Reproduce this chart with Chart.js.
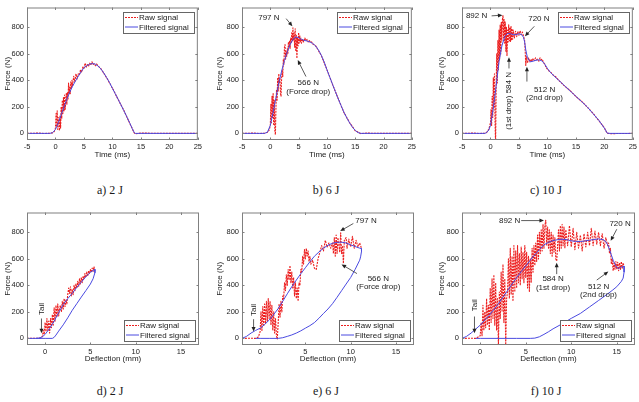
<!DOCTYPE html>
<html><head><meta charset="utf-8">
<script src="https://cdn.jsdelivr.net/npm/chart.js@4.4.0/dist/chart.umd.min.js"></script>
<style>
html,body{margin:0;padding:0;background:#fff;}
#wrap{position:relative;width:639px;height:402px;overflow:hidden;background:#fff;}
canvas{position:absolute;}
.cap{position:absolute;font-family:"Liberation Serif","Times New Roman",Times,serif;font-weight:normal;font-size:12px;color:#1a1a1a;transform:translate(-50%,-50%);white-space:nowrap;}
</style></head><body>
<div id="wrap">
<canvas id="ca"></canvas><canvas id="cb"></canvas><canvas id="cc"></canvas>
<canvas id="cd"></canvas><canvas id="ce"></canvas><canvas id="cf"></canvas>
<div class="cap" style="left:110px;top:190px">a) 2 J</div>
<div class="cap" style="left:326px;top:190px">b) 6 J</div>
<div class="cap" style="left:546px;top:190px">c) 10 J</div>
<div class="cap" style="left:110px;top:391px">d) 2 J</div>
<div class="cap" style="left:326px;top:391px">e) 6 J</div>
<div class="cap" style="left:546px;top:391px">f) 10 J</div>
</div>
<script>
// ---------- tick labels ----------
const yTicks = [0, 200, 400, 600, 800];
const timeTicks = [-5, 0, 5, 10, 15, 20, 25];
const deflTicks = [0, 5, 10, 15];
const seriesNames = ['Raw signal', 'Filtered signal'];

// ---------- data: [time (ms), force (N)] ----------
const filtA = [[-5,0],[-1,0],[-0.5,5],[0,30],[0.5,80],[1,140],[1.5,200],[2,260],[2.5,310],[3,355],[3.5,395],[4,430],[4.5,465],[5,495],[5.5,512],[6,522],[6.5,527],[7,522],[7.5,508],[8,485],[8.5,455],[9,420],[9.5,383],[10,340],[10.5,300],[11,258],[11.5,215],[12,172],[12.5,128],[13,82],[13.5,35],[13.8,8],[14,0],[15,0],[20,0],[25,0]];
const rawA = [[-5,0],[-3,2],[-2,-1],[-1,1],[-0.5,4],[-0.2,15],[0,40],[0.1,150],[0.2,60],[0.3,170],[0.4,30],[0.5,120],[0.6,90],[0.7,20],[0.8,130],[0.9,40],[1,200],[1.1,110],[1.2,250],[1.3,150],[1.4,270],[1.5,170],[1.6,290],[1.7,180],[1.8,240],[1.9,300],[2,220],[2.1,310],[2.2,260],[2.3,380],[2.4,300],[2.5,350],[2.6,300],[2.7,390],[2.8,340],[2.9,400],[3,360],[3.2,430],[3.4,390],[3.6,450],[3.8,410],[4,450],[4.2,440],[4.4,480],[4.6,460],[4.8,500],[5,490],[5.2,530],[5.4,500],[5.6,520],[5.8,505],[6,530],[6.2,515],[6.4,540],[6.6,520],[6.8,525],[7,510],[7.2,525],[7.5,508],[8,487],[9,418],[10,342],[11,256],[12,174],[13,80],[13.8,6],[14,-3],[15,2],[20,0],[25,0]];

const filtB = [[-5,0],[-1,0],[-0.5,10],[0,60],[0.5,160],[1,270],[1.5,380],[2,470],[2.5,550],[3,615],[3.5,670],[4,710],[4.5,728],[5,722],[5.5,710],[6,702],[6.5,697],[7,690],[7.5,678],[8,660],[8.5,630],[9,590],[9.5,540],[10,480],[10.5,425],[11,370],[11.5,315],[12,260],[12.5,210],[13,160],[13.5,118],[14,80],[14.5,48],[15,22],[15.5,6],[16,0],[20,0],[25,0]];
const rawB = [[-5,0],[-3,2],[-2,-1],[-1,1],[-0.5,8],[-0.2,25],[0,60],[0.1,220],[0.2,80],[0.3,280],[0.4,120],[0.5,300],[0.6,60],[0.7,250],[0.8,20],[0.9,-10],[1,200],[1.1,330],[1.2,250],[1.3,420],[1.4,320],[1.5,450],[1.6,380],[1.7,420],[1.8,300],[1.9,280],[2,420],[2.1,480],[2.2,430],[2.3,560],[2.4,520],[2.5,650],[2.6,670],[2.7,560],[2.8,620],[2.9,580],[3,640],[3.1,600],[3.2,690],[3.3,650],[3.4,700],[3.5,640],[3.6,720],[3.7,680],[3.8,760],[3.9,700],[4,797],[4.1,700],[4.2,760],[4.3,650],[4.4,790],[4.5,620],[4.6,740],[4.7,566],[4.8,720],[4.9,660],[5,760],[5.1,680],[5.2,740],[5.3,690],[5.4,720],[5.5,680],[5.7,710],[5.9,690],[6.1,720],[6.3,700],[6.5,710],[6.7,690],[6.9,700],[7.1,685],[7.3,690],[7.5,675],[8,662],[9,588],[10,482],[11,368],[12,262],[13,158],[14,82],[15,20],[16,-2],[17,2],[20,0],[25,0]];

const filtC = [[-5,0],[-1,0],[-0.7,5],[-0.3,25],[0,60],[0.5,190],[1,360],[1.5,540],[2,660],[2.5,730],[3,755],[3.5,752],[4,745],[4.5,745],[5,752],[5.5,745],[5.8,725],[6,690],[6.2,630],[6.5,570],[7,540],[7.5,545],[8,552],[8.5,555],[9,548],[9.5,525],[10,490],[10.5,462],[11,440],[12,400],[13,360],[14,320],[15,280],[16,240],[17,200],[18,150],[19,100],[20,40],[20.5,2],[21,0],[25,0]];
const rawC = [[-5,0],[-3,2],[-2,-1],[-1,1],[-0.7,6],[-0.3,30],[0,80],[0.1,180],[0.2,60],[0.3,280],[0.4,120],[0.5,420],[0.6,200],[0.7,450],[0.8,100],[0.9,-90],[1,350],[1.1,600],[1.2,380],[1.3,700],[1.4,480],[1.5,780],[1.6,560],[1.7,820],[1.8,600],[1.9,840],[2,700],[2.1,860],[2.2,892],[2.3,720],[2.4,860],[2.5,680],[2.6,840],[2.7,620],[2.8,800],[2.9,584],[3,780],[3.1,690],[3.2,820],[3.3,700],[3.4,800],[3.5,690],[3.6,810],[3.7,700],[3.8,790],[3.9,710],[4,780],[4.2,720],[4.4,770],[4.6,730],[4.8,770],[5,740],[5.2,775],[5.4,745],[5.6,765],[5.8,735],[6,700],[6.1,620],[6.2,512],[6.3,580],[6.5,530],[6.7,570],[6.9,540],[7.1,560],[7.3,545],[7.5,565],[7.7,550],[7.9,570],[8.1,555],[8.3,560],[8.5,545],[8.7,570],[8.9,555],[9.1,560],[9.3,535],[9.5,525],[9.8,495],[10,485],[10.3,470],[10.6,460],[11,440],[11.5,425],[12,400],[13,358],[14,322],[15,278],[16,242],[17,198],[18,152],[19,98],[20,42],[20.5,0],[21,-2],[25,0]];

// ---------- data: [deflection (mm), force (N)] ----------
const filtD = [[-2,0],[-1,0],[-0.6,3],[-0.3,12],[0,30],[0.5,75],[1,130],[1.5,195],[2,255],[2.5,300],[3,340],[3.5,385],[4,425],[4.5,465],[5,500],[5.3,512],[5.5,522],[5.5,495],[5.3,450],[5,410],[4.5,360],[4,312],[3.5,262],[3,212],[2.5,155],[2,102],[1.5,55],[1.2,25],[1,8],[0.8,0],[0,0],[-1,0]];
const rawD = [[-2,0],[-1,1],[-0.5,2],[-0.3,15],[-0.2,60],[-0.1,30],[0,120],[0.1,50],[0.2,150],[0.3,60],[0.4,130],[0.5,40],[0.6,150],[0.7,80],[0.8,180],[0.9,100],[1,230],[1.1,130],[1.2,250],[1.3,160],[1.4,260],[1.5,170],[1.6,230],[1.7,250],[1.8,200],[1.9,280],[2,220],[2.1,300],[2.2,240],[2.3,290],[2.4,260],[2.5,330],[2.6,380],[2.7,340],[2.8,390],[2.9,320],[3,370],[3.1,330],[3.2,400],[3.3,360],[3.4,410],[3.5,380],[3.6,430],[3.7,390],[3.8,450],[3.9,410],[4,460],[4.1,420],[4.2,470],[4.3,450],[4.4,490],[4.5,460],[4.6,500],[4.7,470],[4.8,510],[4.9,490],[5,520],[5.1,500],[5.2,530],[5.3,505],[5.4,540],[5.5,510]];

const filtE = [[-2,0],[-1.5,15],[-1,40],[-0.5,60],[0,77],[0.5,105],[1,138],[1.5,180],[2,225],[2.5,280],[3,336],[3.5,390],[4,440],[4.5,488],[5,533],[5.5,578],[6,620],[6.5,652],[7,681],[7.5,703],[8,718],[8.5,725],[9,726],[9.5,720],[10,706],[10.5,693],[11,681],[11.2,678],[11.2,655],[11.1,615],[11,590],[10.5,521],[10,459],[9.5,410],[9,360],[8.5,310],[8,262],[7.5,222],[7,188],[6.5,152],[6,119],[5.5,96],[5,77],[4.5,57],[4,40],[3.5,26],[3,15],[2.5,5],[2,0],[1,0],[0,0],[-0.5,0]];
const rawE = [[-2,0],[-1,1],[-0.5,0],[-0.2,10],[0,50],[0.1,200],[0.2,60],[0.3,240],[0.4,90],[0.5,260],[0.6,110],[0.7,280],[0.8,130],[0.9,300],[1,150],[1.1,280],[1.2,100],[1.3,250],[1.4,60],[1.5,200],[1.6,40],[1.7,150],[1.8,20],[1.9,-5],[2,120],[2.1,260],[2.2,160],[2.3,280],[2.4,200],[2.5,320],[2.6,300],[2.7,420],[2.8,360],[2.9,480],[3,400],[3.1,520],[3.2,440],[3.3,550],[3.4,420],[3.5,500],[3.6,380],[3.7,460],[3.8,320],[3.9,420],[4,300],[4.1,380],[4.2,280],[4.3,420],[4.4,400],[4.5,520],[4.6,500],[4.7,620],[4.8,560],[4.9,670],[5,600],[5.1,680],[5.2,620],[5.3,660],[5.4,580],[5.5,620],[5.6,560],[5.8,590],[6,530],[6.2,520],[6.4,600],[6.6,650],[6.8,700],[7,660],[7.2,740],[7.4,690],[7.6,720],[7.8,680],[8,720],[8.1,640],[8.2,760],[8.3,620],[8.4,780],[8.5,640],[8.6,760],[8.8,650],[8.9,797],[9,640],[9.1,700],[9.2,566],[9.3,740],[9.5,760],[9.6,680],[9.8,750],[10,690],[10.2,770],[10.4,680],[10.6,740],[10.8,690],[11,720],[11.2,680]];

const filtF = [[-2,0],[-1.5,15],[-1,40],[-0.5,70],[0,100],[0.5,138],[1,175],[1.5,218],[2,262],[2.5,310],[3,360],[3.5,410],[4,459],[4.5,503],[5,546],[5.5,590],[6,632],[6.5,670],[7,706],[7.5,725],[8,738],[8.5,745],[9,748],[9.5,745],[10,736],[10.5,732],[11,731],[11.5,735],[12,741],[12.5,746],[13,751],[13.5,745],[13.8,730],[14,706],[14.2,670],[14.4,630],[14.6,590],[14.8,560],[15,535],[15.2,528],[15.4,535],[15.6,540],[15.8,545],[15.8,500],[15.7,455],[15.5,430],[15,390],[14.5,362],[14,336],[13,286],[12,237],[11,188],[10,151],[9,110],[8,72],[7.5,50],[7,30],[6.5,12],[6,2],[5.5,0],[4,0],[2,0],[0,0],[-0.5,0]];
const rawF = [[-2,0],[-1,1],[-0.5,0],[0,20],[0.1,120],[0.2,20],[0.3,250],[0.4,60],[0.5,200],[0.6,80],[0.7,300],[0.8,100],[0.9,250],[1,60],[1.1,380],[1.2,120],[1.3,450],[1.4,150],[1.5,480],[1.6,100],[1.7,420],[1.8,60],[1.9,300],[2,-60],[2.1,350],[2.2,150],[2.3,500],[2.4,200],[2.5,560],[2.6,120],[2.7,450],[2.8,-60],[2.9,300],[3,350],[3.1,600],[3.2,300],[3.3,680],[3.4,330],[3.5,620],[3.6,280],[3.7,700],[3.8,350],[3.9,660],[4,380],[4.1,700],[4.2,420],[4.3,640],[4.4,400],[4.5,690],[4.6,450],[4.7,650],[4.8,420],[4.9,700],[5,460],[5.1,650],[5.2,380],[5.3,620],[5.4,350],[5.5,600],[5.6,420],[5.7,680],[5.8,500],[5.9,700],[6,550],[6.1,720],[6.2,580],[6.3,780],[6.4,600],[6.5,800],[6.6,640],[6.7,820],[6.8,660],[6.9,860],[7,680],[7.1,850],[7.2,892],[7.3,700],[7.4,840],[7.5,680],[7.6,820],[7.7,640],[7.8,800],[7.9,620],[8,780],[8.1,650],[8.2,760],[8.3,600],[8.4,584],[8.5,700],[8.6,820],[8.7,660],[8.8,850],[8.9,680],[9,860],[9.1,700],[9.2,840],[9.3,680],[9.4,820],[9.6,700],[9.8,850],[10,690],[10.2,830],[10.4,670],[10.6,800],[10.8,680],[11,780],[11.2,660],[11.4,790],[11.6,690],[11.8,800],[12,700],[12.2,830],[12.4,700],[12.6,810],[12.8,710],[13,800],[13.2,700],[13.4,790],[13.6,680],[13.8,760],[14,700],[14.1,720],[14.2,640],[14.3,680],[14.4,560],[14.5,600],[14.6,510],[14.7,570],[14.8,520],[14.9,580],[15,520],[15.1,575],[15.2,510],[15.3,570],[15.4,520],[15.5,580],[15.6,530],[15.7,570],[15.8,540]];

// ---------- annotation texts (anchored in data units) ----------
const notesB = [
  {lines:['797 N'], at:[-0.25,874], arrow:[2.8,866,3.9,808]},
  {lines:['566 N','(Force drop)'], at:[6.7,380], arrow:[6.3,429,4.85,553]}
];
const notesC = [
  {lines:['892 N'], at:[-2.44,887], arrow:[0.2,887,2.1,892]},
  {lines:['720 N'], at:[8.5,867], arrow:[7.7,808,6.05,733]},
  {lines:['(1st drop) 584 N'], at:[3.2,245], rot:-90, arrow:[3.25,490,3.25,574]},
  {lines:['512 N','(2nd drop)'], at:[9.5,330], arrow:[6.4,391,6.4,503]}
];
const notesD = [
  {lines:['Tail'], at:[-0.4,222], rot:-90, arrow:[-0.4,150,-0.4,39]}
];
const notesE = [
  {lines:['Tail'], at:[-0.72,215], rot:-90, arrow:[-0.72,145,-0.72,52]},
  {lines:['797 N'], at:[11.7,884], arrow:[10.3,867,8.85,810]},
  {lines:['566 N','(Force drop)'], at:[13.06,452], arrow:[10.7,489,9.0,558]}
];
const notesF = [
  {lines:['Tail'], at:[-0.63,250], rot:-90, arrow:[-0.63,165,-0.63,39]},
  {lines:['892 N'], at:[3.23,884], arrow:[4.5,889,7.0,889]},
  {lines:['720 N'], at:[15.36,867], arrow:[15.0,824,14.33,736]},
  {lines:['584 N','(1st drop)'], at:[8.0,447], arrow:[8.4,485,8.4,570]},
  {lines:['512 N','(2nd drop)'], at:[13.0,390], arrow:[12.8,440,14.07,504]}
];

// ---------- styling ----------
const RED = '#ec1f1f';
const BLUE = '#4a4ae0';
const FONT = '"Liberation Sans", Arial, sans-serif';
const INK = '#222';

function drawArrow(ctx, x1, y1, x2, y2) {
  const a = Math.atan2(y2 - y1, x2 - x1), hl = 4.5, hw = 2;
  ctx.beginPath(); ctx.moveTo(x1, y1);
  ctx.lineTo(x2 - Math.cos(a) * hl * 0.8, y2 - Math.sin(a) * hl * 0.8); ctx.stroke();
  ctx.beginPath(); ctx.moveTo(x2, y2);
  ctx.lineTo(x2 - hl * Math.cos(a) + hw * Math.sin(a), y2 - hl * Math.sin(a) - hw * Math.cos(a));
  ctx.lineTo(x2 - hl * Math.cos(a) - hw * Math.sin(a), y2 - hl * Math.sin(a) + hw * Math.cos(a));
  ctx.closePath(); ctx.fill();
}

const framePlugin = {
  id: 'frameTicks',
  afterDatasetsDraw(chart) {
    const {ctx, chartArea: ca, scales} = chart;
    ctx.save();
    ctx.strokeStyle = '#808080'; ctx.lineWidth = 1;
    ctx.strokeRect(ca.left + 0.5, ca.top + 0.5, ca.right - ca.left - 1, ca.bottom - ca.top - 1);
    ctx.beginPath();
    scales.x.ticks.forEach(t => {
      const p = Math.round(scales.x.getPixelForValue(t.value)) + 0.5;
      ctx.moveTo(p, ca.bottom); ctx.lineTo(p, ca.bottom - 2.5);
      ctx.moveTo(p, ca.top); ctx.lineTo(p, ca.top + 2.5);
    });
    scales.y.ticks.forEach(t => {
      const p = Math.round(scales.y.getPixelForValue(t.value)) + 0.5;
      ctx.moveTo(ca.left, p); ctx.lineTo(ca.left + 2.5, p);
      ctx.moveTo(ca.right, p); ctx.lineTo(ca.right - 2.5, p);
    });
    ctx.stroke();
    ctx.restore();
  }
};

function extrasPlugin(notes, legendPos) {
  return {
    id: 'extras',
    afterDraw(chart) {
      const {ctx, chartArea: ca, scales} = chart;
      ctx.save();
      // legend box
      const w = 71, h = 21;
      const lx = Math.round(ca.right - 4 - w);
      const ly = Math.round(legendPos === 'top' ? ca.top + 4 : ca.bottom - 4 - h);
      ctx.fillStyle = '#fff'; ctx.fillRect(lx, ly, w, h);
      ctx.strokeStyle = '#666'; ctx.lineWidth = 1; ctx.strokeRect(lx + 0.5, ly + 0.5, w, h);
      ctx.font = '8px ' + FONT; ctx.textBaseline = 'middle'; ctx.textAlign = 'left';
      chart.data.datasets.forEach((ds, i) => {
        const cy = ly + 5.5 + i * 9.5;
        ctx.strokeStyle = ds.borderColor; ctx.lineWidth = 1;
        ctx.setLineDash(ds.borderDash || []);
        ctx.beginPath(); ctx.moveTo(lx + 2, cy); ctx.lineTo(lx + 15, cy); ctx.stroke();
        ctx.setLineDash([]);
        ctx.fillStyle = INK; ctx.fillText(ds.label, lx + 16, cy + 0.5);
      });
      // annotations
      ctx.fillStyle = INK; ctx.strokeStyle = '#333'; ctx.lineWidth = 0.8;
      ctx.textAlign = 'center'; ctx.textBaseline = 'middle'; ctx.font = '8px ' + FONT;
      notes.forEach(n => {
        const px = scales.x.getPixelForValue(n.at[0]);
        const py = scales.y.getPixelForValue(n.at[1]);
        ctx.save(); ctx.translate(px, py);
        if (n.rot) ctx.rotate(n.rot * Math.PI / 180);
        n.lines.forEach((t, i) => ctx.fillText(t, 0, i * 8.5));
        ctx.restore();
        if (n.arrow) {
          const a = n.arrow;
          drawArrow(ctx, scales.x.getPixelForValue(a[0]), scales.y.getPixelForValue(a[1]),
                         scales.x.getPixelForValue(a[2]), scales.y.getPixelForValue(a[3]));
        }
      });
      ctx.restore();
    }
  };
}

function makeChart(id, box, raw, filt, xMin, xMax, xTicks, xTitle, legendPos, notes, padB, yTitlePad) {
  const [L, T, R, B] = box;
  const padL = 27, padT = 4, padR = 4;
  const cv = document.getElementById(id);
  cv.width = R - L + padL + padR; cv.height = B - T + padT + padB;
  cv.style.left = (L - padL) + 'px'; cv.style.top = (T - padT) + 'px';
  const tickFont = {family: FONT, size: 7.5};
  const titleFont = {family: FONT, size: 8};
  new Chart(cv, {
    type: 'line',
    data: {datasets: [
      {label: seriesNames[0], data: raw.map(p => ({x: p[0], y: p[1]})), borderColor: RED, borderWidth: 1.1,
       borderDash: [2, 1], borderJoinStyle: 'round', pointRadius: 0, order: 1},
      {label: seriesNames[1], data: filt.map(p => ({x: p[0], y: p[1]})), borderColor: BLUE, borderWidth: 1,
       borderJoinStyle: 'round', pointRadius: 0, order: 0}
    ]},
    options: {
      responsive: false, animation: false, events: [],
      layout: {padding: {left: 0, top: padT, right: padR, bottom: 0}},
      plugins: {legend: {display: false}, tooltip: {enabled: false}},
      scales: {
        x: {type: 'linear', min: xMin, max: xMax,
            grid: {display: false, drawTicks: false, tickLength: 0}, border: {display: false},
            afterBuildTicks: s => { s.ticks = xTicks.map(v => ({value: v})); },
            afterFit: s => { s.height = padB; },
            ticks: {font: tickFont, color: INK, padding: 2, maxRotation: 0, autoSkip: false},
            title: {display: true, text: xTitle, font: titleFont, color: INK, padding: {top: 0, bottom: 0}}},
        y: {type: 'linear', min: -50, max: 950,
            grid: {display: false, drawTicks: false, tickLength: 0}, border: {display: false},
            afterBuildTicks: s => { s.ticks = yTicks.map(v => ({value: v})); },
            afterFit: s => { s.width = padL; },
            ticks: {font: tickFont, color: INK, padding: 3, autoSkip: false},
            title: {display: true, text: 'Force (N)', font: titleFont, color: INK, padding: {top: yTitlePad, bottom: 0}}}
      }
    },
    plugins: [framePlugin, extrasPlugin(notes, legendPos)]
  });
}

makeChart('ca', [27, 4, 200, 140], rawA, filtA, -5, 25, timeTicks, 'Time (ms)', 'top', [], 20, 3);
makeChart('cb', [242, 4, 414, 140], rawB, filtB, -5, 25, timeTicks, 'Time (ms)', 'top', notesB, 20, 0);
makeChart('cc', [462, 4, 635, 140], rawC, filtC, -5, 25, timeTicks, 'Time (ms)', 'top', notesC, 20, 1.5);
makeChart('cd', [27, 209, 199, 345], rawD, filtD, -2, 17, deflTicks, 'Deflection (mm)', 'bottom', notesD, 19, 3);
makeChart('ce', [242, 209, 414, 345], rawE, filtE, -2, 17, deflTicks, 'Deflection (mm)', 'bottom', notesE, 19, 0);
makeChart('cf', [462, 209, 635, 345], rawF, filtF, -2, 17, deflTicks, 'Deflection (mm)', 'bottom', notesF, 19, 1.5);
</script>
</body></html>
